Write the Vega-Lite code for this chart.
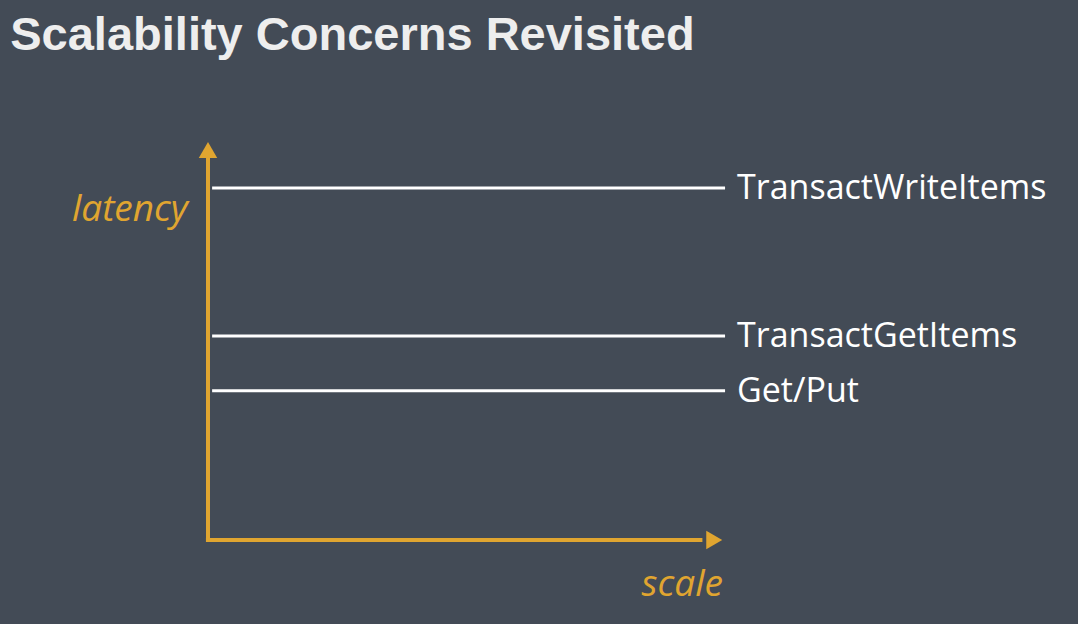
{
  "$schema": "https://vega.github.io/schema/vega-lite/v6.json",
  "width": 515,
  "height": 400,
  "autosize": "none",
  "padding": {"left": 208, "top": 140, "right": 355, "bottom": 84},
  "background": "#434b56",
  "config": {"view": {"stroke": null}},
  "data": {
    "values": [
      {"op": "TransactWriteItems", "latency": 88},
      {"op": "TransactGetItems", "latency": 51},
      {"op": "Get/Put", "latency": 37.3}
    ]
  },
  "encoding": {
    "x": {"type": "quantitative", "scale": {"domain": [0, 100]}, "axis": null},
    "y": {"type": "quantitative", "scale": {"domain": [0, 100]}, "axis": null}
  },
  "layer": [
    {
      "mark": {"type": "rule", "color": "#ffffff", "strokeWidth": 3},
      "encoding": {
        "x": {"datum": 0.8, "type": "quantitative"},
        "x2": {"datum": 100.4},
        "y": {"field": "latency", "type": "quantitative"}
      }
    },
    {
      "mark": {"type": "text", "color": "#ffffff", "align": "left", "baseline": "middle", "font": "Open Sans", "fontSize": 34, "dx": 12, "dy": 1},
      "encoding": {
        "x": {"datum": 100.4, "type": "quantitative"},
        "y": {"field": "latency", "type": "quantitative"},
        "text": {"field": "op"}
      }
    },
    {
      "data": {"values": [{"a": 1}]},
      "layer": [
        {
          "mark": {"type": "rule", "color": "#e0a530", "strokeWidth": 4},
          "encoding": {"x": {"datum": 0, "type": "quantitative"}, "y": {"datum": 0, "type": "quantitative"}, "y2": {"datum": 96}}
        },
        {
          "mark": {"type": "rule", "color": "#e0a530", "strokeWidth": 4},
          "encoding": {"y": {"datum": 0, "type": "quantitative"}, "x": {"datum": -0.4, "type": "quantitative"}, "x2": {"datum": 96}}
        },
        {
          "mark": {"type": "point", "shape": "triangle-up", "filled": true, "color": "#e0a530", "size": 340, "opacity": 1},
          "encoding": {"x": {"datum": 0, "type": "quantitative"}, "y": {"datum": 97.5, "type": "quantitative"}}
        },
        {
          "mark": {"type": "point", "shape": "triangle-right", "filled": true, "color": "#e0a530", "size": 340, "opacity": 1},
          "encoding": {"x": {"datum": 98.3, "type": "quantitative"}, "y": {"datum": 0, "type": "quantitative"}}
        },
        {
          "mark": {"type": "text", "text": "latency", "color": "#e0a530", "align": "right", "baseline": "middle", "font": "Open Sans", "fontStyle": "italic", "fontSize": 37},
          "encoding": {"x": {"datum": -3.9, "type": "quantitative"}, "y": {"datum": 82.5, "type": "quantitative"}}
        },
        {
          "mark": {"type": "text", "text": "scale", "color": "#e0a530", "align": "right", "baseline": "middle", "font": "Open Sans", "fontStyle": "italic", "fontSize": 37},
          "encoding": {"x": {"datum": 100, "type": "quantitative"}, "y": {"datum": -11.3, "type": "quantitative"}}
        },
        {
          "mark": {"type": "text", "text": "Scalability Concerns Revisited", "color": "#eeeeee", "align": "left", "baseline": "alphabetic", "font": "Liberation Sans", "fontWeight": "bold", "fontSize": 47},
          "encoding": {"x": {"datum": -38.4, "type": "quantitative"}, "y": {"datum": 122.5, "type": "quantitative"}}
        }
      ]
    }
  ]
}
